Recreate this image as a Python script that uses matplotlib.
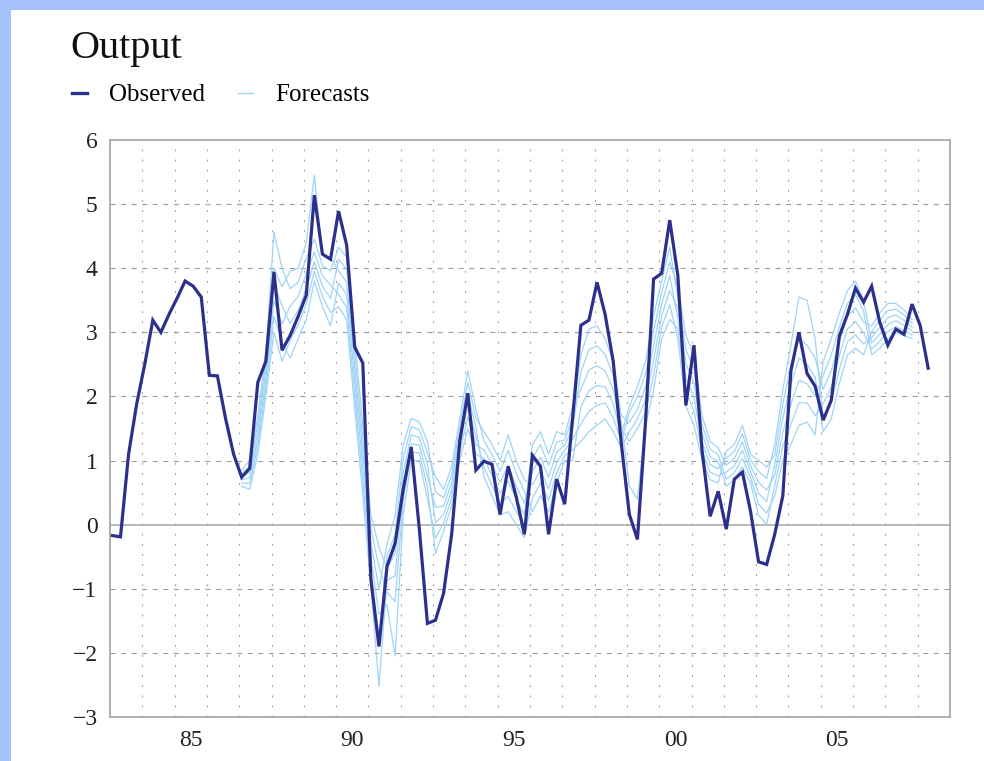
import numpy as np
import matplotlib
matplotlib.use("Agg")
import matplotlib.pyplot as plt
from matplotlib.patches import Rectangle
from matplotlib.ticker import FixedLocator, NullFormatter

# Quarterly output growth, starting 1983Q1
first_quarter = 1983.075
observed = [
    -0.17, -0.19, 1.10, 1.88, 2.50, 3.19, 3.00, 3.28, 3.53, 3.80,
    3.72, 3.55, 2.33, 2.32, 1.66, 1.10, 0.74, 0.88, 2.22, 2.55,
    3.94, 2.72, 2.95, 3.25, 3.58, 5.14, 4.22, 4.14, 4.89, 4.36,
    2.77, 2.52, -0.85, -1.90, -0.65, -0.29, 0.55, 1.21, -0.07, -1.54,
    -1.49, -1.07, -0.15, 1.30, 2.05, 0.85, 0.99, 0.94, 0.16, 0.91,
    0.43, -0.15, 1.08, 0.91, -0.15, 0.71, 0.32, 1.70, 3.11, 3.19,
    3.78, 3.28, 2.55, 1.27, 0.16, -0.23, 1.60, 3.83, 3.92, 4.75,
    3.89, 1.86, 2.80, 1.16, 0.13, 0.52, -0.07, 0.71, 0.82, 0.21,
    -0.58, -0.62, -0.15, 0.45, 2.40, 3.00, 2.36, 2.16, 1.63, 1.94,
    2.94, 3.28, 3.69, 3.47, 3.72, 3.16, 2.80, 3.05, 2.97, 3.44,
    3.11, 2.44,
]

# Forecast paths, each starting in the 17th quarter (1987Q1)
forecast_start = 16
forecast_1 = [
    0.85, 1.00, 1.70, 2.70, 4.56, 4.00,
    3.68, 3.78, 4.16, 4.45, 4.04, 3.96,
    4.33, 4.17, 2.90, 1.55, 0.15, -0.35,
    -0.68, -0.45, 0.81, 1.40, 1.36, 0.94,
    0.03, 0.16, 0.54, 1.26, 1.86, 1.38,
    0.89, 0.61, 0.32, 0.44, 0.20, -0.02,
    1.04, 1.25, 0.92, 1.29, 1.32, 1.68,
    2.65, 3.05, 3.10, 2.90, 2.55, 1.70,
    1.60, 1.80, 2.15, 2.79, 3.44, 3.88,
    3.22, 2.29, 1.99, 1.28, 0.94, 0.87,
    1.04, 1.14, 1.42, 1.01, 0.83, 0.72,
    1.25, 2.10, 2.80, 3.55, 3.50, 2.90,
    1.67, 1.90, 2.42, 2.85, 2.96, 2.82,
    2.92, 3.08, 3.23, 3.27, 3.19, 3.08,
]
forecast_2 = [
    0.80, 0.91, 1.58, 2.56, 4.00, 3.71,
    3.95, 4.00, 4.40, 5.45, 4.20, 4.17,
    3.96, 3.78, 2.46, 1.11, -0.29, -1.00,
    -0.30, 0.15, 1.25, 1.66, 1.60, 1.30,
    0.51, 0.42, 0.78, 1.52, 2.22, 1.66,
    1.45, 1.25, 1.00, 1.40, 1.00, 0.70,
    0.62, 0.85, 0.56, 0.97, 1.16, 1.34,
    1.57, 1.77, 1.86, 1.90, 1.67, 1.30,
    1.75, 2.00, 2.35, 3.02, 3.62, 4.10,
    3.70, 2.95, 2.65, 1.70, 1.30, 1.20,
    0.93, 1.03, 1.29, 0.92, 0.66, 0.54,
    0.77, 1.44, 1.87, 2.25, 2.20, 2.00,
    2.33, 2.65, 3.08, 3.45, 3.59, 3.33,
    2.65, 2.75, 2.90, 3.00, 2.95, 2.90,
]
forecast_3 = [
    0.75, 0.82, 1.46, 2.42, 3.75, 3.42,
    3.14, 3.34, 3.68, 4.10, 3.72, 3.53,
    4.14, 3.98, 2.68, 1.33, -0.07, -0.65,
    -1.06, -1.20, 0.37, 1.13, 1.12, 0.58,
    -0.45, -0.10, 0.30, 1.00, 1.50, 1.10,
    1.03, 0.77, 0.49, 0.68, 0.40, 0.16,
    1.25, 1.45, 1.10, 1.45, 1.40, 1.85,
    2.11, 2.41, 2.48, 2.40, 2.11, 1.50,
    1.30, 1.50, 1.75, 2.33, 3.08, 3.43,
    2.90, 1.85, 1.55, 1.00, 0.70, 0.65,
    1.15, 1.25, 1.55, 1.10, 1.00, 0.90,
    1.09, 1.88, 2.49, 2.90, 2.80, 2.60,
    2.11, 2.40, 2.86, 3.25, 3.38, 3.16,
    3.10, 3.30, 3.45, 3.45, 3.35, 3.20,
]
forecast_4 = [
    0.70, 0.73, 1.34, 2.28, 3.50, 3.13,
    3.41, 3.56, 3.92, 4.25, 3.88, 3.74,
    3.59, 3.39, 2.02, 0.67, -0.73, -1.80,
    -0.49, -0.15, 1.03, 1.53, 1.48, 1.12,
    0.75, 0.55, 0.90, 1.65, 2.40, 1.80,
    1.31, 1.09, 0.83, 1.16, 0.80, 0.52,
    0.20, 0.45, 0.20, 0.65, 1.00, 1.00,
    1.84, 2.09, 2.17, 2.15, 1.89, 1.40,
    1.85, 2.15, 2.55, 3.25, 3.80, 4.33,
    3.54, 2.73, 2.43, 1.56, 1.18, 1.09,
    0.71, 0.81, 1.03, 0.74, 0.32, 0.18,
    0.45, 1.00, 1.25, 1.55, 1.60, 1.40,
    2.55, 2.90, 3.30, 3.65, 3.80, 3.50,
    2.83, 2.97, 3.12, 3.18, 3.11, 3.02,
]
forecast_5 = [
    0.65, 0.64, 1.22, 2.14, 3.25, 2.84,
    2.60, 2.90, 3.20, 3.80, 3.40, 3.10,
    3.77, 3.59, 2.24, 0.89, -0.51, -1.40,
    -1.25, -2.05, 0.15, 1.00, 1.00, 0.40,
    -0.21, 0.03, 0.42, 1.13, 1.68, 1.24,
    1.17, 0.93, 0.66, 0.92, 0.60, 0.34,
    0.83, 1.05, 0.74, 1.13, 1.24, 1.51,
    2.38, 2.73, 2.79, 2.65, 2.33, 1.60,
    0.60, 0.40, 1.55, 2.10, 2.90, 3.20,
    3.06, 2.07, 1.77, 1.14, 0.82, 0.76,
    0.82, 0.92, 1.16, 0.83, 0.49, 0.36,
    0.93, 1.66, 2.18, 2.60, 2.50, 2.30,
    1.45, 1.65, 2.20, 2.65, 2.75, 2.65,
    3.01, 3.19, 3.34, 3.36, 3.27, 3.14,
]
forecast_6 = [
    0.60, 0.55, 1.10, 2.00, 3.00, 2.55,
    2.87, 3.12, 3.44, 3.95, 3.56, 3.31,
    3.40, 3.20, 1.80, 0.45, -0.95, -2.52,
    -0.87, -0.80, 0.59, 1.26, 1.24, 0.76,
    0.27, 0.29, 0.66, 1.39, 2.04, 1.52,
    0.75, 0.45, 0.15, 0.20, 0.00, -0.20,
    0.41, 0.65, 0.38, 0.81, 1.08, 1.17,
    1.30, 1.45, 1.55, 1.65, 1.45, 1.20,
    1.45, 1.65, 1.95, 2.56, 3.26, 3.65,
    3.38, 2.51, 2.21, 1.42, 1.06, 0.98,
    0.60, 0.70, 0.90, 0.65, 0.15, 0.00,
    0.61, 1.22, 1.56, 1.90, 1.90, 1.70,
    1.89, 2.15, 2.64, 3.05, 3.17, 2.99,
    2.74, 2.86, 3.01, 3.09, 3.03, 2.96,
]
forecasts = [forecast_1, forecast_2, forecast_3, forecast_4, forecast_5, forecast_6]

year_ticks = [1985, 1990, 1995, 2000, 2005]
year_labels = ["85", "90", "95", "00", "05"]
y_ticks = [-3, -2, -1, 0, 1, 2, 3, 4, 5, 6]

OBS_COLOR = "#2c2f8c"
FC_COLOR = "#9fd4f6"
GRID_COLOR = "#9c9c9c"
BG_COLOR = "#a6c2fa"
SERIF = ["Liberation Serif", "DejaVu Serif"]

plt.rcParams["font.family"] = SERIF
plt.rcParams["axes.unicode_minus"] = True

fig = plt.figure(figsize=(9.84, 7.61), dpi=100, facecolor=BG_COLOR)
# white panel inside the blue frame
fig.patches.append(Rectangle((11 / 984, 0), 1 - 11 / 984, 1 - 10 / 761,
                             transform=fig.transFigure, facecolor="white",
                             edgecolor="none", zorder=-10))

ax = fig.add_axes([110 / 984, 1 - 717 / 761, 840 / 984, 577 / 761])
ax.set_zorder(1)
ax.set_facecolor("white")

x_obs = first_quarter + np.arange(len(observed)) / 4
for fc in forecasts:
    x_fc = first_quarter + (forecast_start + np.arange(len(fc))) / 4
    ax.plot(x_fc, fc, color=FC_COLOR, lw=0.9, zorder=3)
ax.plot(x_obs, observed, color=OBS_COLOR, lw=2.3, zorder=4,
        solid_joinstyle="miter")

ax.axhline(0, color="#a5a5a5", lw=1.1, zorder=2)

ax.set_xlim(1983, 2009)
ax.set_ylim(-3, 6)

# labels sit in the middle of each year, grid lines at year boundaries
ax.xaxis.set_major_locator(FixedLocator([y + 0.5 for y in year_ticks]))
ax.set_xticklabels(year_labels)
ax.xaxis.set_minor_locator(FixedLocator(list(range(1984, 2009))))
ax.xaxis.set_minor_formatter(NullFormatter())
ax.set_yticks(y_ticks)
ax.set_yticklabels([("\u2212%d" % -v) if v < 0 else "%d" % v for v in y_ticks])

ax.tick_params(axis="both", which="both", length=0, labelsize=17,
               labelcolor="#222222")
ax.tick_params(axis="x", pad=9)
ax.tick_params(axis="y", pad=9)

ax.grid(False)
for yv in range(-2, 6):
    if yv != 0:
        ax.axhline(yv, color=GRID_COLOR, lw=0.8, linestyle=(0, (4.5, 5.0)),
                   zorder=1)
for xv in range(1984, 2009):
    ax.axvline(xv, color=GRID_COLOR, lw=0.8, linestyle=(0, (1.6, 7.5)),
               zorder=1)

for side in ["left", "right", "top", "bottom"]:
    ax.spines[side].set_color("#a9a9a9")
    ax.spines[side].set_linewidth(1.3)

fig.text(70 / 984, 1 - 58 / 761, "Output", fontsize=29, color="#111111",
         ha="left", va="baseline")

handles = [
    plt.Line2D([], [], color=OBS_COLOR, lw=2.4),
    plt.Line2D([], [], color=FC_COLOR, lw=1.0),
]
fig.legend(handles, ["Observed", "Forecasts"], loc="center left",
           bbox_to_anchor=(72 / 984, 1 - 95 / 761), ncol=2, frameon=False,
           fontsize=18, handlelength=0.6, handletextpad=0.9,
           columnspacing=1.3, borderaxespad=0, borderpad=0)

fig.savefig("out.png", dpi=100, facecolor=fig.get_facecolor())
